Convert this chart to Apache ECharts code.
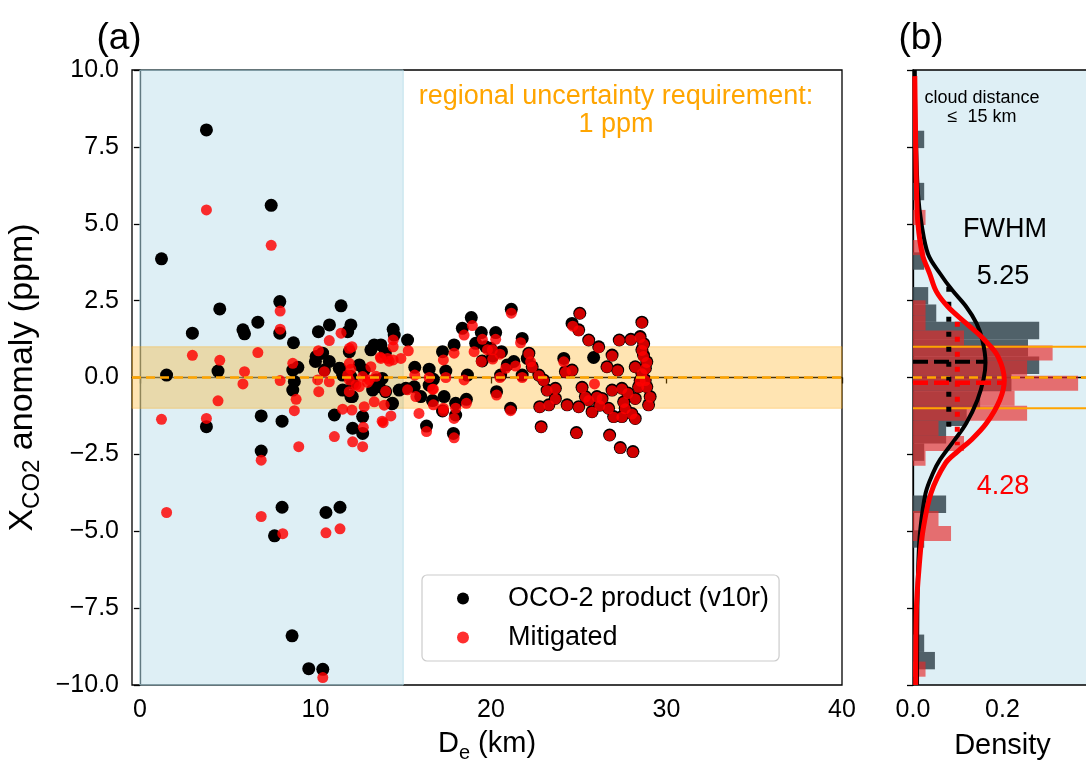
<!DOCTYPE html>
<html><head><meta charset="utf-8">
<script src="https://cdn.jsdelivr.net/npm/echarts@6/dist/echarts.min.js"></script>
<style>html,body{margin:0;padding:0;background:#fff}#c{width:1086px;height:763px}</style>
</head><body><div id="c"></div>
<script>
const FONT = '"Liberation Sans", Arial, sans-serif';
// ---------- axis ticks ----------
const xTicksA = [0, 10, 20, 30, 40];
const xTicksB = [0, 0.2];
// ---------- reference bands ----------
const cloudSpanKm = [0, 15];
const requirementBand = [-1, 1];
const zeroLine = [0];
// ---------- scatter: D_e (km), XCO2 anomaly (ppm) ----------
const nearBlack = [[1.23,3.86],[1.52,0.08],[2.99,1.44],[3.79,8.05],[3.79,-1.6],[4.45,0.21],[4.55,2.23],[5.87,1.55],[5.96,1.42],[6.72,1.8],[6.91,-1.25],[6.91,-2.39],[7.48,5.6],[7.67,-5.15],[7.97,2.47],[7.97,1.44],[8.1,-1.42],[8.1,-4.22],[8.67,-8.4],[8.75,1.13],[8.71,0.24],[9.0,0.33],[8.71,-0.41],[8.8,-0.13],[9.62,-9.47],[10.42,-9.49],[10.6,-4.39],[11.4,-4.22],[10.17,1.49],[10.8,1.71],[11.46,2.33],[11.84,1.49],[12.02,1.71],[10.04,0.68],[10.41,0.79],[10.79,0.52],[10.0,0.52],[10.51,0.24],[11.36,0.3],[11.55,0.08],[11.55,-0.41],[11.08,-1.22],[12.02,0.03],[12.12,-0.19],[12.02,-0.62],[12.5,0.41],[12.78,0.24],[12.69,-1.27],[12.12,-1.65],[12.69,-1.82],[13.35,1.06],[13.73,1.06],[13.16,0.9],[13.98,0.79],[13.45,-0.08],[13.64,-0.3],[13.26,-0.41],[14.0,-0.46],[14.39,-0.84],[14.77,-0.41],[14.43,1.57],[14.49,1.38],[13.8,-0.03],[14.36,-0.85],[12.1,-0.62],[11.93,0.84],[11.4,0.29]];
const nearRed = [[3.79,5.45],[7.48,4.3],[7.99,2.16],[7.99,1.57],[2.99,0.72],[4.55,0.56],[6.72,0.81],[5.96,0.19],[5.87,-0.21],[1.23,-1.36],[4.45,-0.76],[3.79,-1.33],[1.52,-4.39],[6.91,-2.69],[6.91,-4.52],[9.05,-2.25],[8.71,0.46],[7.99,-0.1],[8.9,-0.71],[8.8,-1.08],[8.14,-5.08],[10.6,-5.05],[11.4,-4.92],[10.42,-9.76],[10.17,0.87],[10.79,1.2],[11.46,1.44],[10.13,-0.08],[10.79,-0.14],[10.51,0.19],[10.19,-0.46],[11.93,0.95],[12.08,1.0],[11.93,0.46],[12.02,0.27],[11.84,0.08],[11.93,-0.08],[11.93,-0.46],[12.31,-0.24],[12.5,-0.3],[12.69,0.03],[13.07,-0.08],[13.16,0.35],[13.35,-0.79],[12.78,-0.95],[13.92,-0.9],[13.86,-1.47],[14.3,-1.25],[13.73,0.62],[14.11,0.62],[14.43,0.57],[14.43,1.22],[14.43,1.0],[14.87,0.62],[11.55,-1.03],[12.08,-1.06],[12.73,-1.62],[12.12,-2.09],[12.69,-2.25],[11.08,-1.92],[13.8,-1.42],[14.0,-0.45],[13.7,0.66],[14.2,0.53],[12.97,-0.16],[13.45,0.04]];
const farBlack = [[21.16,2.22],[18.88,1.95],[18.37,1.6],[19.45,1.46],[20.27,1.46],[21.78,1.27],[19.13,1.11],[19.98,0.95],[20.6,0.84],[17.9,1.06],[17.24,0.84],[19.5,0.54],[20.93,0.41],[21.3,0.52],[22.07,0.62],[21.78,0.08],[20.55,0.08],[18.66,0.08],[17.43,0.21],[16.48,0.27],[15.66,0.33],[15.25,1.22],[15.15,-0.35],[15.63,-0.3],[16.72,-0.06],[17.33,-0.62],[16.67,-0.75],[16.0,-0.62],[16.33,-1.58],[17.86,-1.82],[17.99,-0.84],[17.99,-1.22],[18.6,-0.71],[20.32,-0.46],[21.12,-1.0],[17.24,-1.09],[16.48,-0.25],[19.7,1.0],[20.1,0.7],
 [25.06,2.09],[24.62,1.76],[25.0,1.55],[28.6,1.8],[28.5,1.33],[27.97,1.24],[27.31,1.22],[25.57,1.22],[26.14,1.0],[24.15,0.62],[24.62,0.24],[24.24,0.19],[26.9,0.73],[26.61,0.35],[27.22,0.24],[28.22,0.35],[28.69,0.73],[28.88,0.51],[28.6,0.14],[28.79,-0.08],[28.88,-0.3],[28.41,-0.3],[29.07,-0.62],[28.98,-0.89],[28.22,-0.68],[27.56,-0.79],[27.65,-1.0],[28.03,-1.17],[28.22,-1.33],[26.99,-1.27],[27.46,-1.27],[26.7,-1.0],[26.33,-0.68],[26.9,-0.41],[27.46,-0.35],[25.76,-1.11],[25.57,-0.73],[25.19,-0.32],[25.38,-0.62],[25.0,-0.95],[24.34,-0.89],[23.67,-0.35],[23.67,-0.68],[23.3,-0.89],[22.78,-0.95],[22.73,0.08],[22.35,0.35],[22.16,0.79],[23.0,-0.08],[23.2,-0.41],[22.86,-1.6],[24.87,-1.79],[26.76,-1.87],[27.37,-2.28],[28.09,-2.41],[26.04,-0.62],[28.6,0.9],[28.7,1.1],[28.8,0.3],[28.5,-0.1],[27.8,-0.5],[26.2,-0.9],[25.85,0.65]];
const farRed = [[21.16,2.09],[18.94,1.69],[18.47,1.38],[19.51,1.24],[20.27,1.24],[21.69,1.13],[19.04,0.84],[20.08,0.9],[20.51,0.76],[17.9,0.79],[17.29,0.57],[19.45,0.52],[20.84,0.3],[21.4,0.37],[22.26,0.51],[21.78,0.0],[20.51,0.0],[18.47,-0.08],[17.43,0.0],[16.48,0.0],[15.66,0.08],[15.29,0.87],[15.25,-0.4],[15.72,-0.62],[16.72,-0.38],[17.29,-1.0],[16.72,-0.89],[15.9,-1.17],[16.33,-1.76],[17.9,-1.96],[17.99,-1.0],[17.9,-1.33],[18.6,-0.84],[20.32,-0.57],[21.12,-1.08],[17.29,-1.09],[16.67,-0.38],[19.8,0.9],[20.1,0.6],
 [25.06,2.07],[24.66,1.67],[25.0,1.52],[28.6,1.78],[28.5,1.3],[27.97,1.22],[27.31,1.2],[25.57,1.2],[26.14,0.97],[24.15,0.51],[24.62,0.22],[24.24,0.17],[26.9,0.7],[26.61,0.33],[27.22,0.22],[28.22,0.33],[28.69,0.68],[28.88,0.49],[28.6,0.12],[28.79,-0.1],[28.88,-0.32],[28.41,-0.32],[29.07,-0.64],[28.98,-0.91],[28.22,-0.7],[27.56,-0.81],[27.65,-1.02],[28.03,-1.19],[28.22,-1.35],[26.99,-1.29],[27.46,-1.29],[26.7,-1.02],[26.33,-0.7],[26.9,-0.43],[27.46,-0.37],[25.76,-1.13],[25.57,-0.75],[25.19,-0.34],[25.38,-0.64],[25.0,-0.97],[24.34,-0.91],[23.67,-0.37],[23.67,-0.7],[23.3,-0.91],[22.78,-0.97],[22.73,0.06],[22.35,0.33],[22.16,0.77],[23.0,-0.1],[23.2,-0.43],[22.86,-1.62],[24.87,-1.81],[26.76,-1.89],[27.37,-2.3],[28.09,-2.43],[26.04,-0.64],[28.6,0.88],[28.7,1.08],[28.8,0.28],[28.5,-0.12],[27.8,-0.52],[26.2,-0.92],[25.9,-0.21]];
// ---------- panel (b) histograms (cloud distance <= 15 km) ----------
const blackHistEdges = [-9.49,-8.925,-8.36,-7.795,-7.23,-6.665,-6.1,-5.535,-4.97,-4.405,-3.84,-3.275,-2.71,-2.145,-1.58,-1.015,-0.45,0.115,0.68,1.245,1.81,2.375,2.94,3.505,4.07,4.635,5.2,5.765,6.33,6.895,7.46,8.025];
const blackHistDensity = [0.049,0.025,0,0,0,0,0,0.025,0,0.074,0,0,0.025,0.074,0.12,0.15,0.22,0.282,0.257,0.282,0.052,0.034,0,0.025,0,0,0,0.025,0,0,0.025];
const redHistEdges = [-9.73,-9.24,-8.75,-8.26,-7.77,-7.28,-6.79,-6.3,-5.81,-5.32,-4.83,-4.34,-3.85,-3.36,-2.87,-2.39,-1.9,-1.41,-0.92,-0.43,0.06,0.55,1.04,1.53,2.02,2.51,3.0,3.49,3.98,4.47,4.96,5.45];
const redHistDensity = [0.028,0,0,0,0,0,0,0,0,0.085,0.057,0,0,0,0.028,0.114,0.057,0.255,0.227,0.369,0.255,0.312,0.114,0.028,0.028,0,0,0,0.028,0,0.028];
// ---------- panel (b) fitted curves, read as (density, ppm) ----------
const blackFit = [[0.004,10],[0.005,8.5],[0.007,7.5],[0.011,6],[0.019,5],[0.034,4],[0.06,3.39],[0.087,2.85],[0.119,2.3],[0.142,1.76],[0.155,1.22],[0.162,0.5],[0.158,-0.03],[0.144,-0.73],[0.119,-1.49],[0.093,-2.03],[0.06,-2.68],[0.045,-3.1],[0.028,-3.77],[0.016,-5],[0.012,-6],[0.0098,-7.5],[0.009,-10]];
const redFit = [[0.004,9.8],[0.006,7.5],[0.008,6],[0.011,5],[0.021,4],[0.037,3.39],[0.052,2.8],[0.078,2.3],[0.119,1.76],[0.16,1.22],[0.19,0.68],[0.204,-0.08],[0.194,-0.73],[0.164,-1.49],[0.13,-2.03],[0.1,-2.4],[0.072,-2.8],[0.04,-3.77],[0.022,-5],[0.015,-5.93],[0.0075,-7.56],[0.006,-10]];
const blackPeakLine = [[0,0.51],[0.162,0.51]];
const redPeakLine = [[0,-0.17],[0.204,-0.17]];
const blackHalfMax = [[0.080,2.95],[0.080,-1.6]];
const redHalfMax = [[0.099,1.81],[0.099,-2.2]];
const bandLinesB = [-1, 1];

function fmtY(v){ return (v < 0 ? '\u2212' : '') + Math.abs(v).toFixed(1); }
function hist(edges, dens){ const out=[]; for(let i=0;i<dens.length;i++){ if(dens[i]>0) out.push([dens[i], edges[i], edges[i+1]]); } return out; }

const chart = echarts.init(document.getElementById('c'), null, {renderer:'canvas'});
const axisLine = {show:true, lineStyle:{color:'#000', width:1.3}};
const axisTick = {show:true, inside:false, length:6, lineStyle:{color:'#000', width:1.3}};
const lbl = {fontFamily:FONT, fontSize:25, color:'#000'};
function txt(t, x, y, size, color){ return {type:'text', x:x, y:y, style:{text:t, font:size+'px "Liberation Sans", Arial, sans-serif', fill:color||'#000', align:'center', verticalAlign:'middle'}}; }

function histSeries(data, color){
  return {type:'custom', xAxisIndex:1, yAxisIndex:1, z:1, silent:true, clip:true,
    data: data, encode:{x:0, y:[1,2]},
    renderItem:(p, api)=>{
      const a = api.coord([0, api.value(2)]); const b = api.coord([api.value(0), api.value(1)]);
      return {type:'rect', shape:{x:a[0], y:a[1], width:b[0]-a[0], height:b[1]-a[1]}, style:{fill:color}};
    }};
}

chart.setOption({
  animation:false,
  textStyle:{fontFamily:FONT},
  grid:[
    {left:132, top:70, width:710, height:615, containLabel:false, outerBoundsMode:'none', show:true, borderColor:'#000', borderWidth:1.3, backgroundColor:'transparent'},
    {left:913, top:70, width:179, height:615, containLabel:false, outerBoundsMode:'none', show:true, borderColor:'#000', borderWidth:1.3, backgroundColor:'rgba(173,216,230,0.4)'}
  ],
  xAxis:[
    {type:'value', gridIndex:0, min:-0.45, max:40, axisLine, axisTick:Object.assign({customValues:xTicksA}, axisTick),
     axisLabel:Object.assign({customValues:xTicksA, margin:13}, lbl), splitLine:{show:false},
     name:'{n|D}{s|e}{n| (km)}', nameLocation:'middle', nameGap:40,
     nameTextStyle:{rich:{n:{fontFamily:FONT, fontSize:29, color:'#000', lineHeight:38}, s:{fontFamily:FONT, fontSize:20, color:'#000', verticalAlign:'bottom', lineHeight:20}}}},
    {type:'value', gridIndex:1, min:0, max:0.4, interval:0.2, axisLine, axisTick,
     axisLabel:Object.assign({formatter:v=>v.toFixed(1), showMaxLabel:false, margin:13}, lbl), splitLine:{show:false},
     name:'Density', nameLocation:'middle', nameGap:46, nameTextStyle:{fontFamily:FONT, fontSize:29, color:'#000'}}
  ],
  yAxis:[
    {type:'value', gridIndex:0, min:-10, max:10, interval:2.5, axisLine, axisTick,
     axisLabel:Object.assign({formatter:fmtY, margin:13}, lbl), splitLine:{show:false},
     name:'{n|X}{s|CO2}{n| anomaly (ppm)}', nameLocation:'middle', nameRotate:90, nameGap:80,
     nameTextStyle:{rich:{n:{fontFamily:FONT, fontSize:34, color:'#000', lineHeight:44}, s:{fontFamily:FONT, fontSize:24, color:'#000', verticalAlign:'bottom', lineHeight:24}}}},
    {type:'value', gridIndex:1, min:-10, max:10, interval:2.5, axisLine, axisTick, axisLabel:{show:false}, splitLine:{show:false}}
  ],
  legend:{
    left:422, top:575, orient:'vertical', backgroundColor:'rgba(255,255,255,0.85)', borderColor:'#cccccc', borderWidth:1.2, borderRadius:5,
    padding:[10,10,10,35], itemGap:12, itemWidth:12, itemHeight:12,
    textStyle:{fontFamily:FONT, fontSize:27, lineHeight:26, color:'#000', padding:[0,0,0,34]},
    data:[{name:'OCO-2 product (v10r)', icon:'circle'},{name:'Mitigated', icon:'circle'}]
  },
  series:[
    {name:'span', type:'custom', xAxisIndex:0, yAxisIndex:0, z:1, silent:true, data:[cloudSpanKm],
     renderItem:(p, api)=>{ const cs=p.coordSys; const a=api.coord([api.value(0),0]); const b=api.coord([api.value(1),0]);
       return {type:'rect', shape:{x:a[0], y:cs.y, width:b[0]-a[0], height:cs.height}, style:{fill:'rgba(173,216,230,0.4)', stroke:'rgba(173,216,230,0.7)', lineWidth:1}}; }},
    {name:'band', type:'custom', xAxisIndex:0, yAxisIndex:0, z:1, silent:true, data:[requirementBand],
     renderItem:(p, api)=>{ const cs=p.coordSys; const a=api.coord([0,api.value(1)]); const b=api.coord([0,api.value(0)]);
       return {type:'rect', shape:{x:cs.x, y:a[1], width:cs.width, height:b[1]-a[1]}, style:{fill:'rgba(255,165,0,0.3)', stroke:'rgba(255,165,0,0.35)', lineWidth:1}}; }},
    {name:'OCO-2 product (v10r)', type:'scatter', xAxisIndex:0, yAxisIndex:0, z:2, symbolSize:13, data:nearBlack.concat(farBlack),
     itemStyle:{color:'#000', opacity:1}},
    {name:'Mitigated', type:'scatter', xAxisIndex:0, yAxisIndex:0, z:3, symbolSize:11, data:nearRed.concat(farRed),
     itemStyle:{color:'rgba(255,0,0,0.82)', opacity:1}},
    {name:'zero', type:'custom', xAxisIndex:0, yAxisIndex:0, z:5, silent:true, data:[zeroLine],
     renderItem:(p, api)=>{ const cs=p.coordSys; const a=api.coord([0,api.value(0)]);
       return {type:'line', shape:{x1:cs.x, y1:a[1], x2:cs.x+cs.width, y2:a[1]}, style:{stroke:'#ffa500', lineWidth:2.5, lineDash:[9,5]}}; }},
    // panel b
    histSeries(hist(blackHistEdges, blackHistDensity), 'rgba(55,72,80,0.85)'),
    histSeries(hist(redHistEdges, redHistDensity), 'rgba(230,40,40,0.65)'),
    {name:'bandB', type:'custom', xAxisIndex:1, yAxisIndex:1, z:2, silent:true, data:bandLinesB.map(v=>[v]),
     renderItem:(p, api)=>{ const cs=p.coordSys; const a=api.coord([0,api.value(0)]);
       return {type:'line', shape:{x1:cs.x, y1:a[1], x2:cs.x+cs.width, y2:a[1]}, style:{stroke:'#ffa500', lineWidth:2}}; }},
    {name:'zeroB', type:'custom', xAxisIndex:1, yAxisIndex:1, z:2, silent:true, data:[zeroLine],
     renderItem:(p, api)=>{ const cs=p.coordSys; const a=api.coord([0,api.value(0)]);
       return {type:'line', shape:{x1:cs.x, y1:a[1], x2:cs.x+cs.width, y2:a[1]}, style:{stroke:'#ffa500', lineWidth:2.5, lineDash:[9,5]}}; }},
    {type:'line', xAxisIndex:1, yAxisIndex:1, z:3, silent:true, data:blackFit, smooth:0.35, showSymbol:false, lineStyle:{color:'#000', width:4}},
    {type:'line', xAxisIndex:1, yAxisIndex:1, z:3, silent:true, data:blackPeakLine, showSymbol:false, lineStyle:{color:'#000', width:4, type:[15,6]}},
    {type:'line', xAxisIndex:1, yAxisIndex:1, z:3, silent:true, data:blackHalfMax, showSymbol:false, lineStyle:{color:'#000', width:5, type:[5,10], cap:'butt'}},
    {type:'line', xAxisIndex:1, yAxisIndex:1, z:4, silent:true, data:redFit, smooth:0.35, showSymbol:false, lineStyle:{color:'#ff0000', width:5}},
    {type:'line', xAxisIndex:1, yAxisIndex:1, z:4, silent:true, data:redPeakLine, showSymbol:false, lineStyle:{color:'#ff0000', width:4.5, type:[15,6]}},
    {type:'line', xAxisIndex:1, yAxisIndex:1, z:4, silent:true, data:redHalfMax, showSymbol:false, lineStyle:{color:'#ff0000', width:5, type:[5,10], cap:'butt'}}
  ],
  graphic:[
    txt('(a)', 119, 39, 37),
    txt('(b)', 921, 39, 37),
    txt('regional uncertainty requirement:', 616, 97, 27, '#ffa500'),
    txt('1 ppm', 616, 125, 27, '#ffa500'),
    txt('cloud distance', 982, 98, 18),
    txt('\u2264  15 km', 982, 117, 18),
    txt('FWHM', 1005, 230, 27),
    txt('5.25', 1003, 277, 27),
    txt('4.28', 1003, 487, 27, '#ff0000')
  ]
});
</script></body></html>
